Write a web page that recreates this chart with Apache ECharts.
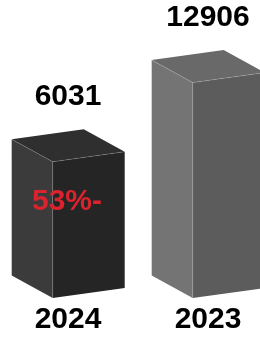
<!DOCTYPE html>
<html>
<head>
<meta charset="utf-8">
<script src="https://cdn.jsdelivr.net/npm/echarts@6/dist/echarts.min.js"></script>
<style>
  html, body { margin: 0; padding: 0; background: #fff; }
  #chart { width: 260px; height: 341px; }
</style>
</head>
<body>
<div id="chart"></div>
<script>
// 年份、数值、柱内的涨跌文字
const years = ['2024', '2023'];
const values = [6031, 12906];
const changeText = ['53%-', ''];

// 每根柱子三个面的颜色：左侧面、正面、顶面
const faceColors = [
  ['#3b3b3b', '#252525', '#2f2f2f'],
  ['#747474', '#5c5c5c', '#696969']
];

const FONT = '"Liberation Sans", Arial, Helvetica, sans-serif';
// 立方体的投影尺寸
const LEFT_W = 41, RIGHT_W = 72, LEFT_DY = 22.5, RIGHT_DY = 10, SHIFT = 15.3;
const Y_MIN = -5800;

const chart = echarts.init(document.getElementById('chart'));

const renderItem = (params, api) => {
  const i = params.dataIndex;
  const topPt = api.coord([api.value(0), api.value(1)]);
  const baseY = api.coord([api.value(0), Y_MIN])[1];
  const cx = topPt[0], ty = topPt[1];
  const fx = cx - SHIFT;
  const lx = fx - LEFT_W, rx = fx + RIGHT_W;
  const c = faceColors[i];
  const edge = 'rgba(255,255,255,0.22)';

  const children = [
    //左侧面
    {
      type: 'polygon',
      shape: {points: [[lx, ty - LEFT_DY], [fx, ty], [fx, baseY], [lx, baseY - LEFT_DY]]},
      style: {fill: c[0]}
    },
    //正面
    {
      type: 'polygon',
      shape: {points: [[fx, ty], [rx, ty - RIGHT_DY], [rx, baseY - RIGHT_DY], [fx, baseY]]},
      style: {fill: c[1]}
    },
    //顶面
    {
      type: 'polygon',
      shape: {points: [[lx, ty - LEFT_DY], [lx + RIGHT_W, ty - LEFT_DY - RIGHT_DY], [rx, ty - RIGHT_DY], [fx, ty]]},
      style: {fill: c[2]}
    },
    //高光边
    {
      type: 'polyline',
      shape: {points: [[lx, ty - LEFT_DY], [fx, ty], [rx, ty - RIGHT_DY]]},
      style: {stroke: edge, lineWidth: 0.7, fill: null}
    },
    {
      type: 'line',
      shape: {x1: fx, y1: ty, x2: fx, y2: baseY},
      style: {stroke: edge, lineWidth: 0.7}
    },
    //数值
    {
      type: 'text',
      x: cx, y: ty - 65,
      style: {
        text: String(api.value(1)),
        fill: '#000', font: 'bold 30px ' + FONT,
        align: 'center', verticalAlign: 'middle'
      }
    }
  ];
  if (changeText[i]) {
    children.push({
      type: 'text',
      x: cx - 1, y: ty + 40,
      style: {
        text: changeText[i],
        fill: '#d9232d', font: 'bold 30px ' + FONT,
        align: 'center', verticalAlign: 'middle'
      }
    });
  }
  return {type: 'group', children};
};

chart.setOption({
  animation: false,
  grid: {left: -2, width: 280, top: 70, bottom: 43, outerBoundsMode: 'none'},
  xAxis: {
    type: 'category',
    data: years,
    axisLine: {show: false},
    axisTick: {show: false},
    axisLabel: {
      color: '#000', fontSize: 30, fontWeight: 'bold', fontFamily: FONT,
      margin: 7
    }
  },
  yAxis: {type: 'value', min: Y_MIN, max: 14000, show: false},
  series: [{
    type: 'custom',
    renderItem: renderItem,
    encode: {x: 0, y: 1},
    data: values.map((v, i) => [i, v])
  }]
});
</script>
</body>
</html>
